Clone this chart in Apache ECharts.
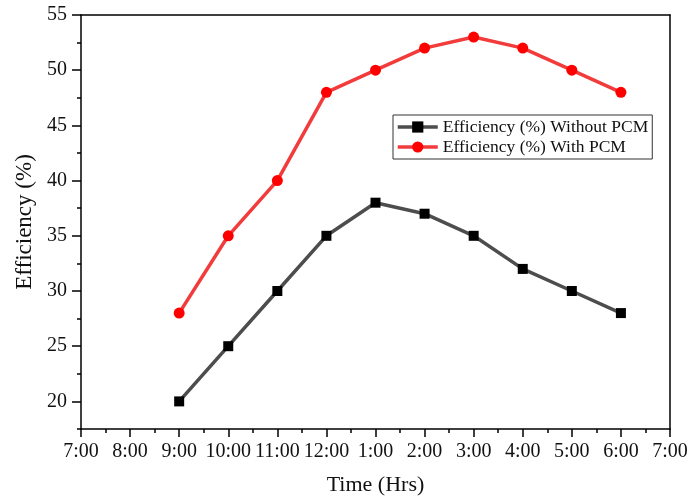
<!DOCTYPE html>
<html>
<head>
<meta charset="utf-8">
<script src="https://cdn.jsdelivr.net/npm/echarts@6/dist/echarts.min.js"></script>
<style>html,body{margin:0;padding:0;background:#fff}#c{width:691px;height:501px}</style>
</head>
<body>
<div id="c"></div>
<script>
const timeLabels = ['7:00','8:00','9:00','10:00','11:00','12:00','1:00','2:00','3:00','4:00','5:00','6:00','7:00'];
const measuredTimes = ['9:00','10:00','11:00','12:00','1:00','2:00','3:00','4:00','5:00','6:00'];
const withoutPCM = [20, 25, 30, 35, 38, 37, 35, 32, 30, 28];
const withPCM = [28, 35, 40, 48, 50, 52, 53, 52, 50, 48];
const yTickValues = ['17.5','20','22.5','25','27.5','30','32.5','35','37.5','40','42.5','45','47.5','50','52.5','55'];

const FONT = '"Liberation Serif", "Times New Roman", serif';
// position of each measured time on the timeLabels axis
const startIdx = timeLabels.indexOf(measuredTimes[0]);
const toData = vals => vals.map((v, i) => [startIdx + i, v]);

const chart = echarts.init(document.getElementById('c'), null, {renderer: 'canvas'});
chart.setOption({
  animation: false,
  backgroundColor: '#fff',
  grid: {left: 81, right: 21, top: 15, bottom: 72, containLabel: false},
  legend: {
    orient: 'vertical',
    left: 393, top: 115,
    padding: [3, 4, 3, 3],
    itemGap: 2,
    itemWidth: 40, itemHeight: 14,
    borderColor: '#333', borderWidth: 1,
    lineStyle: {width: 3.5},
    textStyle: {fontFamily: FONT, fontSize: 17.5, color: '#111'},
    data: ['Efficiency (%) Without PCM', 'Efficiency (%) With PCM']
  },
  xAxis: [
    {
      type: 'category', data: timeLabels, boundaryGap: false,
      position: 'bottom',
      name: 'Time (Hrs)', nameLocation: 'middle', nameGap: 45,
      nameTextStyle: {fontFamily: FONT, fontSize: 22, color: '#111'},
      axisLine: {lineStyle: {color: '#000', width: 1.5}},
      axisTick: {show: true, length: 8, inside: false, alignWithLabel: true, lineStyle: {color: '#000', width: 1.5}},
      axisLabel: {fontFamily: FONT, fontSize: 20, color: '#111', margin: 13, interval: 0},
      splitLine: {show: false}
    },
    {
      type: 'value', min: 0, max: 12, interval: 0.5, position: 'bottom',
      axisLine: {show: false},
      axisTick: {show: true, length: 4, lineStyle: {color: '#000', width: 1.5}},
      axisLabel: {show: false}, splitLine: {show: false}
    },
    {
      type: 'value', min: 0, max: 12, position: 'top',
      axisLine: {show: true, lineStyle: {color: '#000', width: 1.5}},
      axisTick: {show: false}, axisLabel: {show: false}, splitLine: {show: false}
    }
  ],
  yAxis: [
    {
      type: 'value', min: 17.5, max: 55, interval: 2.5, position: 'left',
      name: 'Efficiency (%)', nameLocation: 'middle', nameGap: 44,
      nameTextStyle: {fontFamily: FONT, fontSize: 23, color: '#111'},
      axisLine: {show: true, lineStyle: {color: '#000', width: 1.5}},
      axisTick: {show: true, length: 4, lineStyle: {color: '#000', width: 1.5}},
      axisLabel: {fontFamily: FONT, fontSize: 20, color: '#111', margin: 14,
        formatter: v => (v % 5 === 0 ? String(v) : '')},
      splitLine: {show: false}
    },
    {
      type: 'category', data: yTickValues, boundaryGap: false, position: 'left',
      axisLine: {show: false},
      axisTick: {show: true, length: 9, alignWithLabel: true, interval: i => i % 2 === 1, lineStyle: {color: '#000', width: 1.5}},
      axisLabel: {show: false}, splitLine: {show: false}
    },
    {
      type: 'value', min: 17.5, max: 55, position: 'right',
      axisLine: {show: true, lineStyle: {color: '#000', width: 1.5}},
      axisTick: {show: false}, axisLabel: {show: false}, splitLine: {show: false}
    }
  ],
  series: [
    {
      name: 'Efficiency (%) Without PCM', type: 'line',
      xAxisIndex: 1, yAxisIndex: 0,
      data: toData(withoutPCM),
      symbol: 'rect', symbolSize: 10,
      itemStyle: {color: '#000'},
      lineStyle: {color: '#4d4d4d', width: 3.5}
    },
    {
      name: 'Efficiency (%) With PCM', type: 'line',
      xAxisIndex: 1, yAxisIndex: 0,
      data: toData(withPCM),
      symbol: 'circle', symbolSize: 11,
      itemStyle: {color: '#ff0000'},
      lineStyle: {color: '#f23b3b', width: 3.5}
    }
  ]
});
</script>
</body>
</html>
